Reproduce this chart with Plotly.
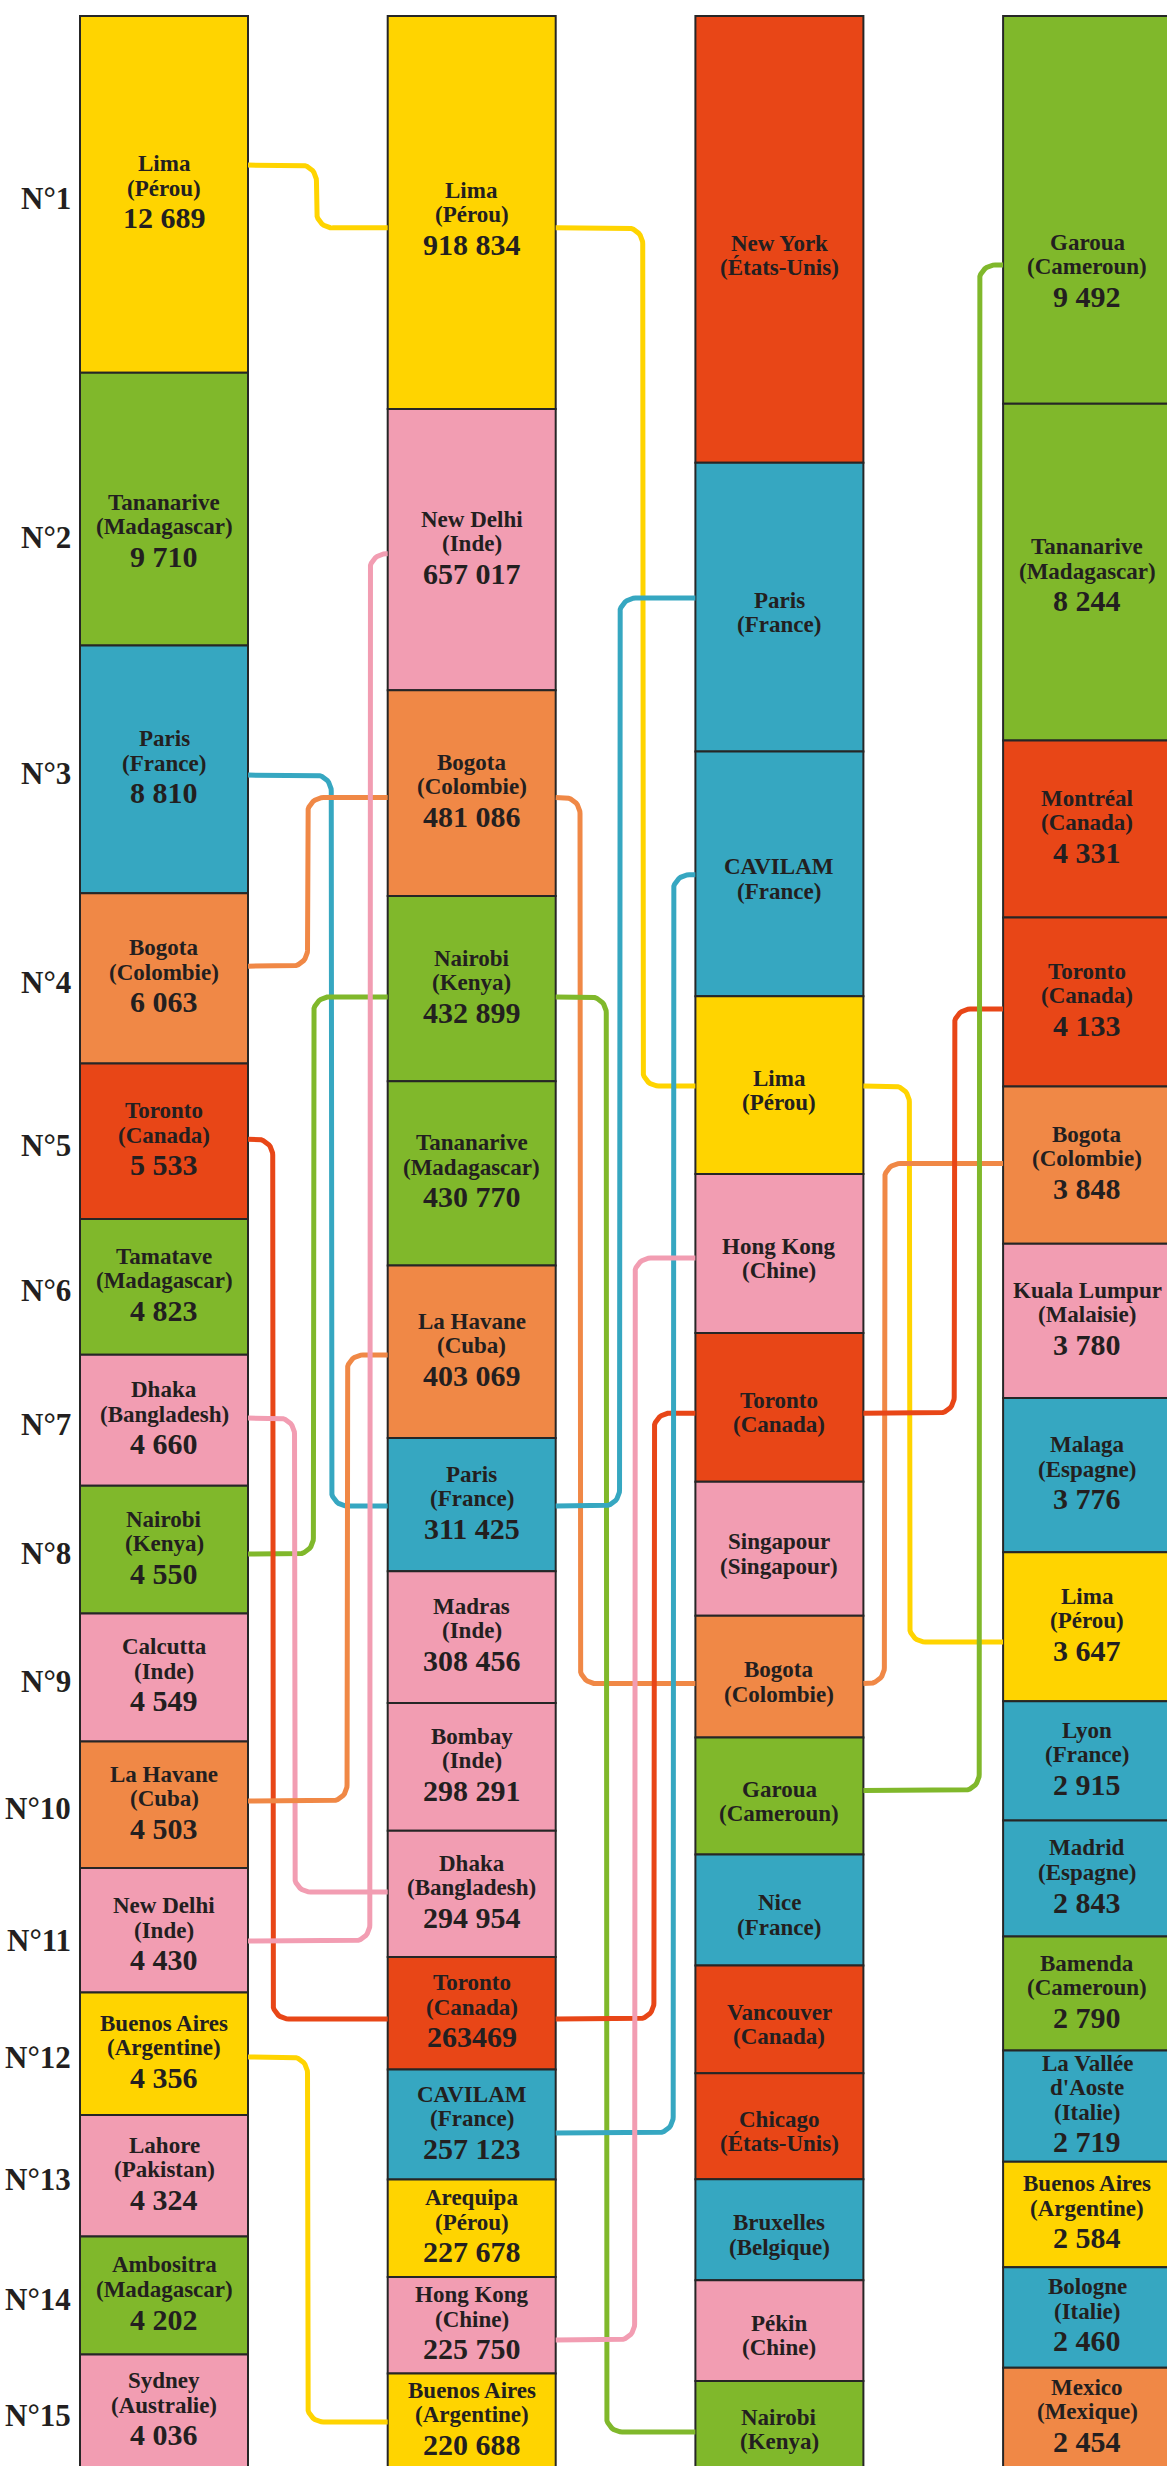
import numpy as np
import plotly.graph_objects as go

# ---------------- DATA ----------------
col1_cities = ["Lima", "Tananarive", "Paris", "Bogota", "Toronto", "Tamatave", "Dhaka", "Nairobi",
               "Calcutta", "La Havane", "New Delhi", "Buenos Aires", "Lahore", "Ambositra", "Sydney"]
col1_countries = ["Pérou", "Madagascar", "France", "Colombie", "Canada", "Madagascar", "Bangladesh", "Kenya",
                  "Inde", "Cuba", "Inde", "Argentine", "Pakistan", "Madagascar", "Australie"]
col1_values = [12689, 9710, 8810, 6063, 5533, 4823, 4660, 4550, 4549, 4503, 4430, 4356, 4324, 4202, 4036]

col2_cities = ["Lima", "New Delhi", "Bogota", "Nairobi", "Tananarive", "La Havane", "Paris", "Madras",
               "Bombay", "Dhaka", "Toronto", "CAVILAM", "Arequipa", "Hong Kong", "Buenos Aires"]
col2_countries = ["Pérou", "Inde", "Colombie", "Kenya", "Madagascar", "Cuba", "France", "Inde",
                  "Inde", "Bangladesh", "Canada", "France", "Pérou", "Chine", "Argentine"]
col2_values = [918834, 657017, 481086, 432899, 430770, 403069, 311425, 308456, 298291, 294954,
               263469, 257123, 227678, 225750, 220688]
col2_raw_labels = {"Toronto": "263469"}   # printed without separator in the original

col3_cities = ["New York", "Paris", "CAVILAM", "Lima", "Hong Kong", "Toronto", "Singapour", "Bogota",
               "Garoua", "Nice", "Vancouver", "Chicago", "Bruxelles", "Pékin", "Nairobi"]
col3_countries = ["États-Unis", "France", "France", "Pérou", "Chine", "Canada", "Singapour", "Colombie",
                  "Cameroun", "France", "Canada", "États-Unis", "Belgique", "Chine", "Kenya"]
# no figures printed for this column: relative sizes
col3_values = [447, 289, 245, 178, 159, 149, 134, 122, 117, 111, 108, 106, 101, 101, 87]

col4_cities = ["Garoua", "Tananarive", "Montréal", "Toronto", "Bogota", "Kuala Lumpur", "Malaga", "Lima",
               "Lyon", "Madrid", "Bamenda", "La Vallée\nd'Aoste", "Buenos Aires", "Bologne", "Mexico"]
col4_countries = ["Cameroun", "Madagascar", "Canada", "Canada", "Colombie", "Malaisie", "Espagne", "Pérou",
                  "France", "Espagne", "Cameroun", "Italie", "Argentine", "Italie", "Mexique"]
col4_values = [9492, 8244, 4331, 4133, 3848, 3780, 3776, 3647, 2915, 2843, 2790, 2719, 2584, 2460, 2454]

rank_labels = [f"N°{i}" for i in range(1, 16)]

# links between the same city in neighbouring columns: (city, from column, to column)
links = [
    ("Lima", 0, 1), ("Paris", 0, 1), ("Bogota", 0, 1), ("Nairobi", 0, 1), ("Toronto", 0, 1),
    ("Dhaka", 0, 1), ("La Havane", 0, 1), ("New Delhi", 0, 1), ("Buenos Aires", 0, 1),
    ("Lima", 1, 2), ("Bogota", 1, 2), ("Nairobi", 1, 2), ("Paris", 1, 2), ("Toronto", 1, 2),
    ("CAVILAM", 1, 2), ("Hong Kong", 1, 2),
    ("Lima", 2, 3), ("Bogota", 2, 3), ("Toronto", 2, 3), ("Garoua", 2, 3),
]

# ---------------- LAYOUT / STYLE ----------------
W, H = 1167, 2466
TOP_PX, STACK_PX = 16, 2452
X0_PX, STEP_PX, BOX_W_PX = 164, 307.7, 168
LINK_W, RADIUS_PX = 5, 16
INK = "#231f20"
FONT = "Liberation Serif"
NAME_SIZE, NUM_SIZE, RANK_SIZE = 23, 30, 31

COLORS = {
    "yellow": "#ffd400", "green": "#80b82b", "blue": "#36a7c1",
    "orange": "#f08846", "red": "#e84617", "pink": "#f29db2",
}
COUNTRY_COLOR = {
    "Pérou": "yellow", "Argentine": "yellow",
    "Madagascar": "green", "Kenya": "green", "Cameroun": "green",
    "France": "blue", "Belgique": "blue", "Italie": "blue", "Espagne": "blue",
    "Colombie": "orange", "Cuba": "orange", "Mexique": "orange",
    "Canada": "red", "États-Unis": "red",
    "Inde": "pink", "Bangladesh": "pink", "Pakistan": "pink", "Chine": "pink",
    "Singapour": "pink", "Malaisie": "pink", "Australie": "pink",
}

# where a link meets a box (fraction of box height from its top)
ANCHOR = {
    (0, "Lima"): 0.418, (0, "Paris"): 0.523, (0, "Bogota"): 0.428, (0, "Toronto"): 0.486,
    (0, "Dhaka"): 0.484, (0, "Nairobi"): 0.535, (0, "La Havane"): 0.471, (0, "New Delhi"): 0.586,
    (0, "Buenos Aires"): 0.527,
    (1, "Lima"): 0.539, (1, "New Delhi"): 0.515, (1, "Bogota"): 0.522, (1, "Nairobi"): 0.545,
    (1, "La Havane"): 0.519, (1, "Paris"): 0.511, (1, "Dhaka"): 0.486, (1, "Toronto"): 0.551,
    (1, "CAVILAM"): 0.576, (1, "Hong Kong"): 0.652, (1, "Buenos Aires"): 0.513,
    (2, "Paris"): 0.469, (2, "CAVILAM"): 0.504, (2, "Lima"): 0.505, (2, "Hong Kong"): 0.529,
    (2, "Toronto"): 0.539, (2, "Bogota"): 0.557, (2, "Garoua"): 0.452, (2, "Nairobi"): 0.586,
    (3, "Garoua"): 0.642, (3, "Toronto"): 0.542, (3, "Bogota"): 0.49, (3, "Lima"): 0.602,
}
# where the vertical part of a link runs (fraction of the gap between columns)
CHANNEL = {
    (0, "Lima"): 0.49, (0, "Paris"): 0.596, (0, "Bogota"): 0.426, (0, "Nairobi"): 0.468,
    (0, "Toronto"): 0.177, (0, "Dhaka"): 0.333, (0, "La Havane"): 0.709, (0, "New Delhi"): 0.872,
    (0, "Buenos Aires"): 0.426,
    (1, "Lima"): 0.623, (1, "Bogota"): 0.174, (1, "Nairobi"): 0.362, (1, "Paris"): 0.457,
    (1, "Toronto"): 0.703, (1, "CAVILAM"): 0.841, (1, "Hong Kong"): 0.565,
    (2, "Lima"): 0.329, (2, "Bogota"): 0.15, (2, "Toronto"): 0.65, (2, "Garoua"): 0.829,
}
# label blocks that sit lower than the box centre in the original (px, downwards)
TEXT_NUDGE = {(3, "Garoua"): 63, (0, "Tananarive"): 24, (2, "New York"): 11, (1, "Lima"): 8,
              (3, "Tananarive"): 5, (0, "New Delhi"): 6}

# ---------------- BUILD ----------------
columns = [
    (col1_cities, col1_countries, col1_values, True),
    (col2_cities, col2_countries, col2_values, True),
    (col3_cities, col3_countries, col3_values, False),
    (col4_cities, col4_countries, col4_values, True),
]

BOX_W = BOX_W_PX / STEP_PX
RX = RADIUS_PX / STEP_PX
RY = RADIUS_PX / STACK_PX


def fmt(v):
    return f"{v:,}".replace(",", " ")


def key(c):
    return c.replace("\n", " ")


geom, colour_of = {}, {}
for ci, (cities, countries, values, _) in enumerate(columns):
    vals = np.array(values, dtype=float)
    shares = vals / vals.sum()
    starts = np.concatenate([[0], np.cumsum(shares)[:-1]])
    for c, co, s0, h in zip(cities, countries, starts, shares):
        geom[(ci, key(c))] = (s0, h)
        colour_of[(ci, key(c))] = COLORS[COUNTRY_COLOR[co]]

fig = go.Figure()

# links (drawn first)
for city, a, b in links:
    s0, h0 = geom[(a, city)]
    s1, h1 = geom[(b, city)]
    y0 = s0 + ANCHOR[(a, city)] * h0
    y1 = s1 + ANCHOR[(b, city)] * h1
    xa = a + BOX_W / 2
    xb = b - BOX_W / 2
    xc = xa + CHANNEL[(a, city)] * (xb - xa)
    sgn = 1 if y1 > y0 else -1
    ry = min(RY, abs(y1 - y0) / 2)
    xs, ys = [xa], [y0]
    t = np.linspace(-np.pi / 2, 0, 12) if sgn > 0 else np.linspace(np.pi / 2, 0, 12)
    xs += list((xc - RX) + RX * np.cos(t)); ys += list((y0 + sgn * ry) + ry * np.sin(t))
    t = np.linspace(np.pi, np.pi / 2, 12) if sgn > 0 else np.linspace(np.pi, 3 * np.pi / 2, 12)
    xs += list((xc + RX) + RX * np.cos(t)); ys += list((y1 - sgn * ry) + ry * np.sin(t))
    xs.append(xb); ys.append(y1)
    fig.add_trace(go.Scatter(x=xs, y=ys, mode="lines",
                             line=dict(color=colour_of[(b, city)], width=LINK_W),
                             hoverinfo="skip", showlegend=False))

# boxes and their labels
annotations = []
for ci, (cities, countries, values, show_num) in enumerate(columns):
    vals = np.array(values, dtype=float)
    shares = vals / vals.sum()
    starts = np.concatenate([[0], np.cumsum(shares)[:-1]])
    fig.add_trace(go.Bar(
        x=[ci] * len(values), y=shares, base=starts, width=BOX_W,
        marker=dict(color=[COLORS[COUNTRY_COLOR[c]] for c in countries],
                    line=dict(color="#262626", width=2)),
        hoverinfo="skip", showlegend=False))
    for c, co, v, s0, h in zip(cities, countries, values, starts, shares):
        lines = [(t, NAME_SIZE, False) for t in c.split("\n")] + [(f"({co})", NAME_SIZE, False)]
        if show_num:
            lab = col2_raw_labels.get(c, fmt(v)) if ci == 1 else fmt(v)
            lines.append((lab, NUM_SIZE, True))
        bl, b = [], 0.0
        for i, (t, fs, is_num) in enumerate(lines):
            if i > 0:
                b += 32 if is_num else 24.4
            bl.append(b)
        top, bottom = -16, bl[-1]
        centre_target = (-2.5 if show_num else 5) + TEXT_NUDGE.get((ci, key(c)), 0)
        shift = centre_target - (top + bottom) / 2
        yc = s0 + h / 2
        for (t, fs, is_num), base_off in zip(lines, bl):
            bpx = base_off + shift
            annotations.append(dict(
                x=ci, y=yc, xref="x", yref="y", text=t, showarrow=False,
                xanchor="center", yanchor="middle", yshift=-(bpx - 0.34 * fs),
                font=dict(family=FONT, size=fs, color=INK, weight="bold")))

# rank labels, aligned on the first column's label blocks
s_first = np.array(col1_values, dtype=float) / np.sum(col1_values)
st_first = np.concatenate([[0], np.cumsum(s_first)[:-1]])
for lab, c, s0, h in zip(rank_labels, col1_cities, st_first, s_first):
    annotations.append(dict(
        x=(73 - X0_PX) / STEP_PX, y=s0 + h / 2, xref="x", yref="y", text=lab, showarrow=False,
        xanchor="right", yanchor="middle", yshift=-4 - TEXT_NUDGE.get((0, c), 0),
        font=dict(family=FONT, size=RANK_SIZE, color=INK, weight="bold")))

fig.update_layout(
    width=W, height=H, margin=dict(l=0, r=0, t=0, b=0),
    paper_bgcolor="white", plot_bgcolor="white",
    barmode="overlay", showlegend=False, annotations=annotations,
    xaxis=dict(range=[(0 - X0_PX) / STEP_PX, (W - X0_PX) / STEP_PX], visible=False, fixedrange=True),
    yaxis=dict(range=[(H - TOP_PX) / STACK_PX, (0 - TOP_PX) / STACK_PX], visible=False, fixedrange=True),
)

fig.write_html("out.html", config={"displayModeBar": False},
               post_script="document.body.style.margin='0';document.body.style.overflow='hidden';")
